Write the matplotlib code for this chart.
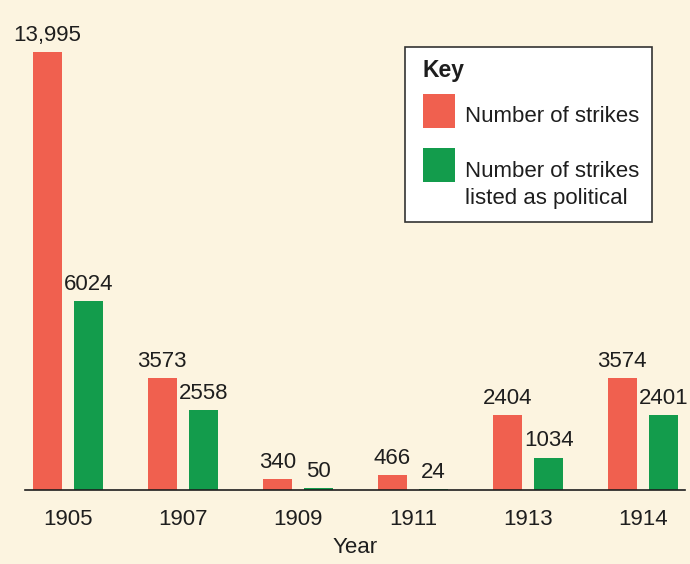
import numpy as np
import matplotlib.pyplot as plt
from matplotlib.patches import Rectangle

years = ['1905', '1907', '1909', '1911', '1913', '1914']
strikes = [13995, 3573, 340, 466, 2404, 3574]
political = [6024, 2558, 50, 24, 1034, 2401]
strike_labels = ['13,995', '3573', '340', '466', '2404', '3574']
political_labels = ['6024', '2558', '50', '24', '1034', '2401']

red = '#f0604f'
green = '#139c4c'
bg = '#fcf4e0'
ink = '#1e1e1e'

plt.rcParams['font.family'] = ['Liberation Sans', 'DejaVu Sans']
fs = 16

W, H = 690, 564
fig = plt.figure(figsize=(W / 100, H / 100), dpi=100, facecolor=bg)
ax = fig.add_axes([25 / W, 1 - 490 / H, 660 / W, 490 / H])
ax.set_facecolor(bg)

x = np.arange(len(years))
off = 0.18
bw = 0.25
ax.bar(x - off, strikes, bw, color=red)
ax.bar(x + off, political, bw, color=green)

for xi, v, s in zip(x, strikes, strike_labels):
    ax.text(xi - off, v + 200, s, ha='center', va='bottom', fontsize=fs, color=ink)
for xi, v, s in zip(x, political, political_labels):
    ax.text(xi + off, v + 200, s, ha='center', va='bottom', fontsize=fs, color=ink)

ax.set_xlim(-0.374, 5.365)
ax.set_ylim(0, 15657)
for sp in ['top', 'right', 'left']:
    ax.spines[sp].set_visible(False)
ax.spines['bottom'].set_color(ink)
ax.spines['bottom'].set_linewidth(1.2)
ax.set_yticks([])
ax.set_xticks(x)
ax.set_xticklabels(years, fontsize=fs, color=ink)
ax.tick_params(axis='x', length=0, pad=14)
ax.set_xlabel('Year', fontsize=fs, color=ink, labelpad=5)

# key box
def fx(px):
    return px / W

def fy(py):
    return 1 - py / H

fig.patches.append(Rectangle((fx(405), fy(222)), fx(652) - fx(405), fy(47) - fy(222),
                             transform=fig.transFigure, facecolor='white',
                             edgecolor='#333333', linewidth=1.2))
fig.text(fx(423), fy(70), 'Key', fontsize=16.5, fontweight='bold', va='center', color=ink)
fig.patches.append(Rectangle((fx(423), fy(128)), fx(455) - fx(423), fy(94) - fy(128),
                             transform=fig.transFigure, facecolor=red, edgecolor='none'))
fig.patches.append(Rectangle((fx(423), fy(182)), fx(455) - fx(423), fy(148) - fy(182),
                             transform=fig.transFigure, facecolor=green, edgecolor='none'))
fig.text(fx(465), fy(116), 'Number of strikes', fontsize=fs, va='center', color=ink)
fig.text(fx(465), fy(185), 'Number of strikes\nlisted as political', fontsize=fs,
         va='center', color=ink, linespacing=1.35)

fig.savefig('out.png', dpi=100, facecolor=bg)
